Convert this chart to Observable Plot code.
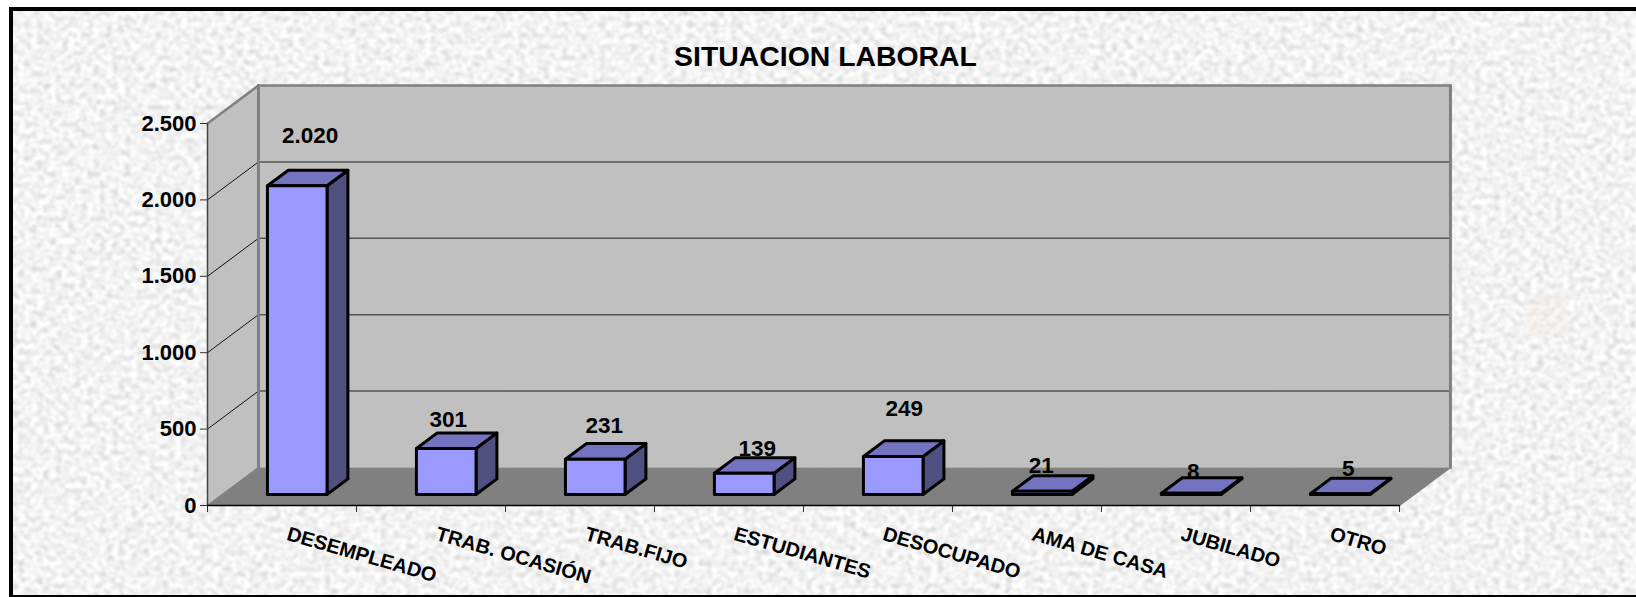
<!DOCTYPE html>
<html><head><meta charset="utf-8">
<style>
html,body{margin:0;padding:0;background:#fff;overflow:hidden}
#stage{position:relative;width:1636px;height:597px;overflow:hidden}
#tex{position:absolute;left:0;top:0}
#frame{position:absolute;left:9px;top:7px;width:1640px;height:584px;border:4px solid #000;box-sizing:content-box}
#chart{position:absolute;left:0;top:0}
</style>
<script src="https://cdn.jsdelivr.net/npm/d3@7"></script>
<script src="https://cdn.jsdelivr.net/npm/@observablehq/plot@0.6"></script>
</head><body>
<div id="stage">
<svg id="tex" width="1636" height="597" aria-hidden="true">
  <defs><filter id="n" x="0" y="0" width="100%" height="100%" color-interpolation-filters="sRGB">
    <feTurbulence type="fractalNoise" baseFrequency="0.16 0.18" numOctaves="2" seed="7"/>
    <feColorMatrix type="matrix" values="0.3 0.12 0 0 0.74  0.3 0.12 0 0 0.74  0.3 0.12 0 0 0.74  0 0 0 0 1"/>
    <feGaussianBlur stdDeviation="0.8"/>
  </filter></defs>
  <rect x="9" y="7" width="1627" height="590" filter="url(#n)"/>
  <rect x="1527" y="293" width="41" height="42" fill="#f6e9e0" opacity="0.3"/>
</svg>
<div id="frame"></div>
<div id="chart"></div>
</div>
<script>
const categories = ["DESEMPLEADO","TRAB. OCASIÓN","TRAB.FIJO","ESTUDIANTES","DESOCUPADO","AMA DE CASA","JUBILADO","OTRO"];
const values = [2020,301,231,139,249,21,8,5];
const yTicks = [0,500,1000,1500,2000,2500];
const xTicks = [0,1,2,3,4,5,6,7,8];
const titleText = "SITUACION LABORAL";

const fmt = d3.formatLocale({decimal:",",thousands:".",grouping:[3],currency:["",""]}).format(",");
const font = "'Liberation Sans', Arial, sans-serif";

// oblique projection, expressed in data units: depth 1 = back wall
const depthX = 0.342, depthY = 248.7;
const P = (i, v, d = 0) => ({x: i + d * depthX, y: v + d * depthY});
const face = (corners, id) => corners.map(([i, v, d]) => ({id, ...P(i, v, d)}));
const yMax = yTicks[yTicks.length - 1], xMax = xTicks[xTicks.length - 1];

const barL = 0.303, barR = 0.703, d0 = 0.29, d1 = 0.7;
const fronts = [], tops = [], sides = [];
values.forEach((v, i) => {
  const a = i + barL, b = i + barR;
  fronts.push(...face([[a,0,d0],[b,0,d0],[b,v,d0],[a,v,d0]], i));
  tops.push(...face([[a,v,d0],[b,v,d0],[b,v,d1],[a,v,d1]], i));
  sides.push(...face([[b,0,d0],[b,0,d1],[b,v,d1],[b,v,d0]], i));
});
const poly = (data, fill, stroke, strokeWidth) => Plot.line(data, {x:"x", y:"y", z:"id", fill, stroke, strokeWidth, curve:"linear-closed", strokeLinejoin:"round"});
const seg = (a, b, stroke, strokeWidth) => Plot.line([P(...a), P(...b)], {x:"x", y:"y", stroke, strokeWidth});

const gridVals = yTicks.slice(1, -1);
const labelShift = [13,2,9,13,11,-1,2,8];
const labelLift = [50,29,33,24,48,25,21,24.5];

const chart = Plot.plot({
  width:1636, height:597,
  marginLeft:207, marginRight:237, marginTop:123, marginBottom:92,
  style:{background:"transparent", fontFamily:font, overflow:"visible"},
  x:{type:"linear", domain:[0,xMax], range:[207,1399]},
  y:{type:"linear", domain:[0,yMax], range:[505,123]},
  marks:[
    // walls
    poly(face([[0,0,0],[0,0,1],[0,yMax,1],[0,yMax,0]],"side"), "#c0c0c0", "none", 0),
    poly(face([[0,0,1],[xMax,0,1],[xMax,yMax,1],[0,yMax,1]],"back"), "#c0c0c0", "none", 0),
    poly(face([[0,0,0],[xMax,0,0],[xMax,0,1],[0,0,1]],"floor"), "#808080", "none", 0),
    // gridlines
    ...gridVals.map(v => seg([0,v,1],[xMax,v,1],"#555",1.5)),
    ...gridVals.map(v => seg([0,v,0],[0,v,1],"#111",1)),
    // wall edges
    seg([0,0,1],[0,yMax,1],"#808080",3),
    seg([0,yMax,1],[xMax,yMax,1],"#808080",2.5),
    seg([xMax,yMax,1],[xMax,0,1],"#808080",3),
    seg([0,yMax,0],[0,yMax,1],"#808080",2.5),
    seg([xMax,0,0],[xMax,0,1],"#808080",1.5),
    seg([0,0,0],[0,0,1],"#808080",1.5),
    seg([0,0,0],[0,yMax,0],"#444",1.5),
    // axes
    Plot.axisX({ticks:xTicks, tickSize:7, tickFormat:()=>"", stroke:"#333", label:null}),
    Plot.axisY({ticks:yTicks, tickSize:7, tickPadding:4, tickFormat:fmt, stroke:"#333", fill:"#000", fontSize:22, fontWeight:"bold", fontFamily:font, label:null}),
    seg([0,0,0],[xMax,0,0],"#000",1.5),
    // bars
    poly(sides, "#4f4f80", "#000", 3),
    poly(tops, "#7373bf", "#000", 3),
    poly(fronts, "#9999ff", "#000", 3),
    // value labels
    ...values.map((v,i) => Plot.text([fmt(v)], {
      x:()=>P(i + (barL+barR)/2, v, d0).x, y:()=>P(i + (barL+barR)/2, v, d0).y,
      text:d=>d, dx:labelShift[i], dy:-labelLift[i],
      fontSize:22.5, fontWeight:"bold", fontFamily:font, fill:"#000", lineAnchor:"middle"
    })),
    // category labels
    Plot.text(categories, {
      x:(d,i)=>i, y:()=>0, text:d=>d, dx:80, dy:28, rotate:16,
      textAnchor:"start", lineAnchor:"middle",
      fontSize:20, fontWeight:"bold", fontFamily:font, fill:"#000"
    }),
    // title
    Plot.text([titleText], {
      x:()=>xMax/2, y:()=>yMax, text:d=>d, dx:22, dy:-67, lineAnchor:"middle",
      fontSize:28.4, fontWeight:"bold", fontFamily:font, fill:"#000"
    })
  ]
});
document.getElementById("chart").appendChild(chart);
</script>
</body></html>
